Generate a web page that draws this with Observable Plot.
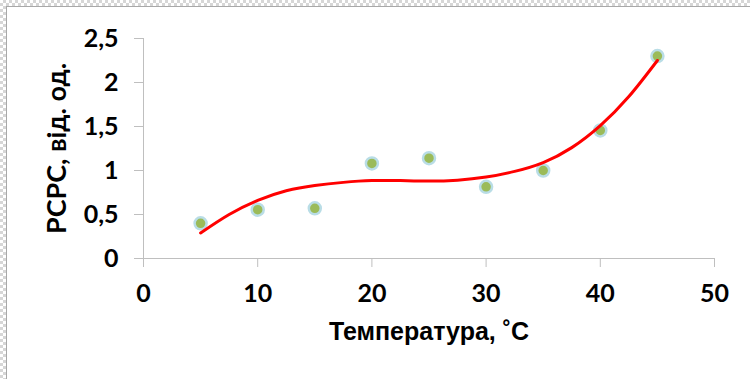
<!DOCTYPE html>
<html>
<head>
<meta charset="utf-8">
<script src="https://cdn.jsdelivr.net/npm/d3@7"></script>
<script src="https://cdn.jsdelivr.net/npm/@observablehq/plot@0.6"></script>
<style>
  html, body { margin: 0; padding: 0; background: #fff; }
  #wrap {
    position: relative; width: 750px; height: 379px; overflow: hidden;
    background-color: #fff;
    background-image: repeating-conic-gradient(#d6d6d6 0% 25%, #ffffff 0% 50%);
    background-size: 6px 6px;
  }
  #inner {
    position: absolute; left: 6px; top: 6px; right: 0; bottom: 0;
    background: #fff; border-left: 1px solid #a8a8a8; border-top: 1px solid #a8a8a8;
  }
  #chart { position: absolute; left: 0; top: 0; }
</style>
</head>
<body>
<div id="wrap"><div id="inner"></div><div id="chart"></div></div>
<script>
// Measured data (temperature, °C → РСРС)
const temps = [5, 10, 15, 20, 25, 30, 35, 40, 45];
const rsrs = [0.40, 0.555, 0.57, 1.08, 1.14, 0.815, 1.0, 1.455, 2.30];

// Trend line (polynomial trendline)
const trendX = [5, 7.5, 10, 12.5, 15, 17.5, 20, 22.5, 25, 27.5, 30, 32.5, 35, 37.5, 40, 42.5, 45];
const trendY = [0.29, 0.50, 0.66, 0.77, 0.83, 0.865, 0.885, 0.885, 0.88, 0.89, 0.925, 0.99, 1.09, 1.26, 1.51, 1.84, 2.25];

const xTicks = [0, 10, 20, 30, 40, 50];
const yTicks = [0, 0.5, 1, 1.5, 2, 2.5];
const xLabel = "Температура, ˚C";
const yLabel = "РСРС, від. од.";

const points = temps.map((t, i) => ({t, v: rsrs[i]}));
const trend = trendX.map((t, i) => ({t, v: trendY[i]}));
const fmt = d => String(d).replace(".", ",");
const axisColor = "#bfbfbf";

const chart = Plot.plot({
  width: 750,
  height: 379,
  marginLeft: 143,
  marginRight: 36,
  marginTop: 38,
  marginBottom: 121,
  style: {background: "transparent", fontFamily: "Lato, sans-serif", fontWeight: "bold", color: "#000", overflow: "visible"},
  x: {domain: [0, 50]},
  y: {domain: [0, 2.5]},
  marks: [
    Plot.ruleX([0], {stroke: axisColor, strokeWidth: 1}),
    Plot.ruleY([0], {stroke: axisColor, strokeWidth: 1}),
    Plot.axisY({ticks: yTicks, tickFormat: fmt, tickSize: 9, tickPadding: 16, stroke: axisColor, fill: "#000", fontSize: 25, fontWeight: "bold", label: null}),
    Plot.axisX({ticks: xTicks, tickFormat: fmt, tickSize: 9, tickPadding: 17, stroke: axisColor, fill: "#000", fontSize: 25, fontWeight: "bold", label: null}),
    Plot.dot(points, {x: "t", y: "v", r: 6, fill: "#9bbb59", stroke: "#b9dde6", strokeWidth: 2.5}),
    Plot.line(trend, {x: "t", y: "v", stroke: "#ff0000", strokeWidth: 3, curve: "natural"}),
    Plot.text([yLabel], {text: d => d, frameAnchor: "left", textAnchor: "middle", dx: -86, rotate: -90, fontSize: 27, fontWeight: "bold", fill: "#000"}),
    Plot.text([xLabel], {text: d => d, frameAnchor: "bottom", textAnchor: "middle", dy: 81, fontSize: 25, fontWeight: "bold", fontFamily: "Liberation Sans, Arial, sans-serif", fill: "#000"})
  ]
});
document.getElementById("chart").appendChild(chart);
</script>
</body>
</html>
